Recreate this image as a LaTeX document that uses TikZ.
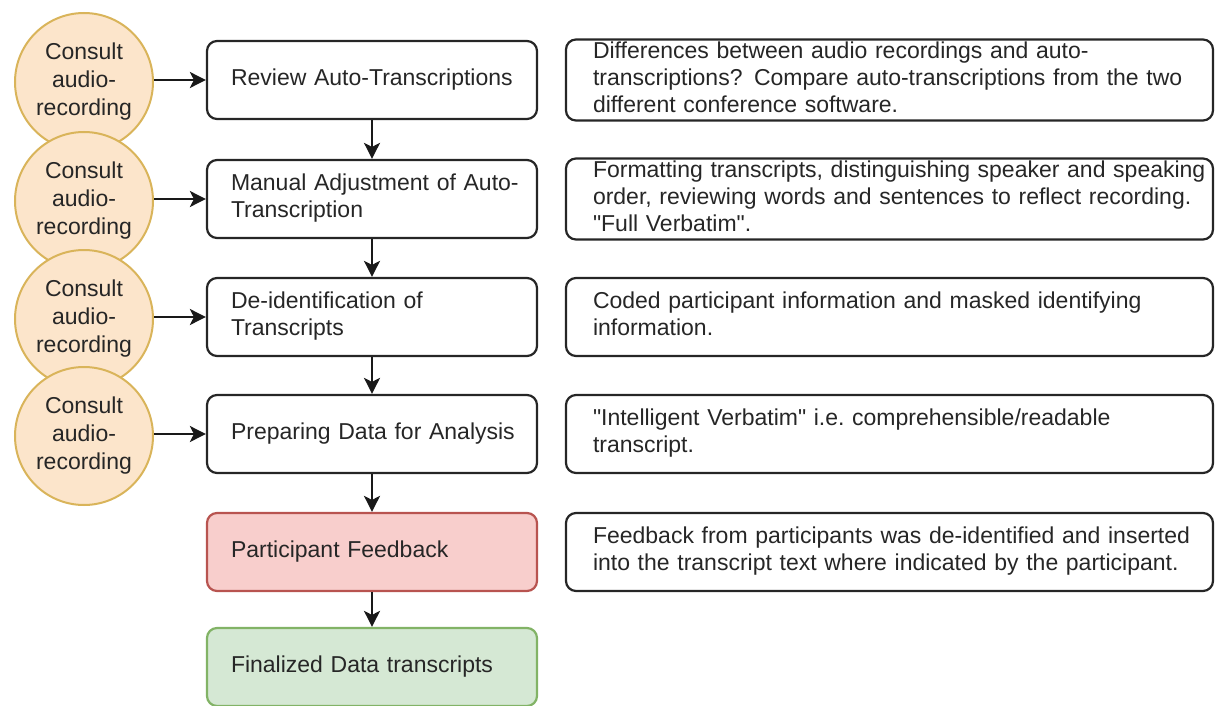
\documentclass[tikz,border=0pt]{standalone}
\usepackage{fontspec}
\setmainfont{Liberation Sans}
\usepackage{tikz}
\usetikzlibrary{arrows.meta}
\definecolor{audfill}{HTML}{FCE5CB}
\definecolor{auddraw}{HTML}{D9B45A}
\definecolor{fbfill}{HTML}{F8CECC}
\definecolor{fbdraw}{HTML}{B85450}
\definecolor{findfill}{HTML}{D5E8D4}
\definecolor{finddraw}{HTML}{82B366}
\newcommand{\rows}[1]{\begin{tabular}{@{}l@{}}#1\end{tabular}}

\begin{document}
\begin{tikzpicture}[x=0.5pt,y=-0.5pt,font=\fontsize{11.5}{13.5}\selectfont,text=black!85,
aud/.style={circle,draw=auddraw,fill=audfill,line width=1pt,minimum size=69pt,inner sep=0pt,align=center,font=\fontsize{11.5}{14}\selectfont},
stage/.style={rectangle,rounded corners=5pt,draw=black!85,line width=1.1pt,minimum height=39pt,text width=141pt,inner xsep=12pt,inner ysep=0pt,align=left},
note/.style={rectangle,rounded corners=5pt,draw=black!85,line width=1.1pt,minimum height=39pt,text width=296.5pt,inner xsep=13.5pt,inner ysep=0pt,align=left},
arr/.style={-{Stealth[length=8pt,width=8pt,inset=2pt]},line width=1pt,black!90}]
\useasboundingbox (0,0) rectangle (1215,706);

\foreach \y/\n in {80/1,199/2,317/3,434/4} {
   \node[aud] (aud\n) at (84,\y+2) {Consult\\audio-\\recording};
}

\node[stage] (rev) at (372,80) {\rows{Review Auto-Transcriptions}};
\node[stage] (man) at (372,199) {\rows{Manual Adjustment of Auto-\\Transcription}};
\node[stage] (deid) at (372,317) {\rows{De-identification of\\Transcripts}};
\node[stage] (prep) at (372,434) {\rows{Preparing Data for Analysis}};
\node[stage,draw=fbdraw,fill=fbfill] (feed) at (372,552) {\rows{Participant Feedback}};
\node[stage,draw=finddraw,fill=findfill] (fin) at (372,667) {\rows{Finalized Data transcripts}};

\node[note] (n1) at (889.5,80) {\rows{Differences between audio recordings and auto-\\transcriptions? Compare auto-transcriptions from the two\\different conference software.}};
\node[note] (n2) at (889.5,199) {\rows{Formatting transcripts, distinguishing speaker and speaking\\order, reviewing words and sentences to reflect recording.\\\textquotedbl Full Verbatim\textquotedbl.}};
\node[note] (n3) at (889.5,317) {\rows{Coded participant information and masked identifying\\information.}};
\node[note] (n4) at (889.5,434) {\rows{\textquotedbl Intelligent Verbatim\textquotedbl{} i.e.\ comprehensible/readable\\transcript.}};
\node[note] (n5) at (889.5,552) {\rows{Feedback from participants was de-identified and inserted\\into the transcript text where indicated by the participant.}};

\foreach \n/\s in {1/rev,2/man,3/deid,4/prep}
   \draw[arr] (aud\n.east |- \s) -- (\s);
\foreach \a/\b in {rev/man,man/deid,deid/prep,prep/feed,feed/fin}
   \draw[arr] (\a) -- (\b);
\end{tikzpicture}
\end{document}
